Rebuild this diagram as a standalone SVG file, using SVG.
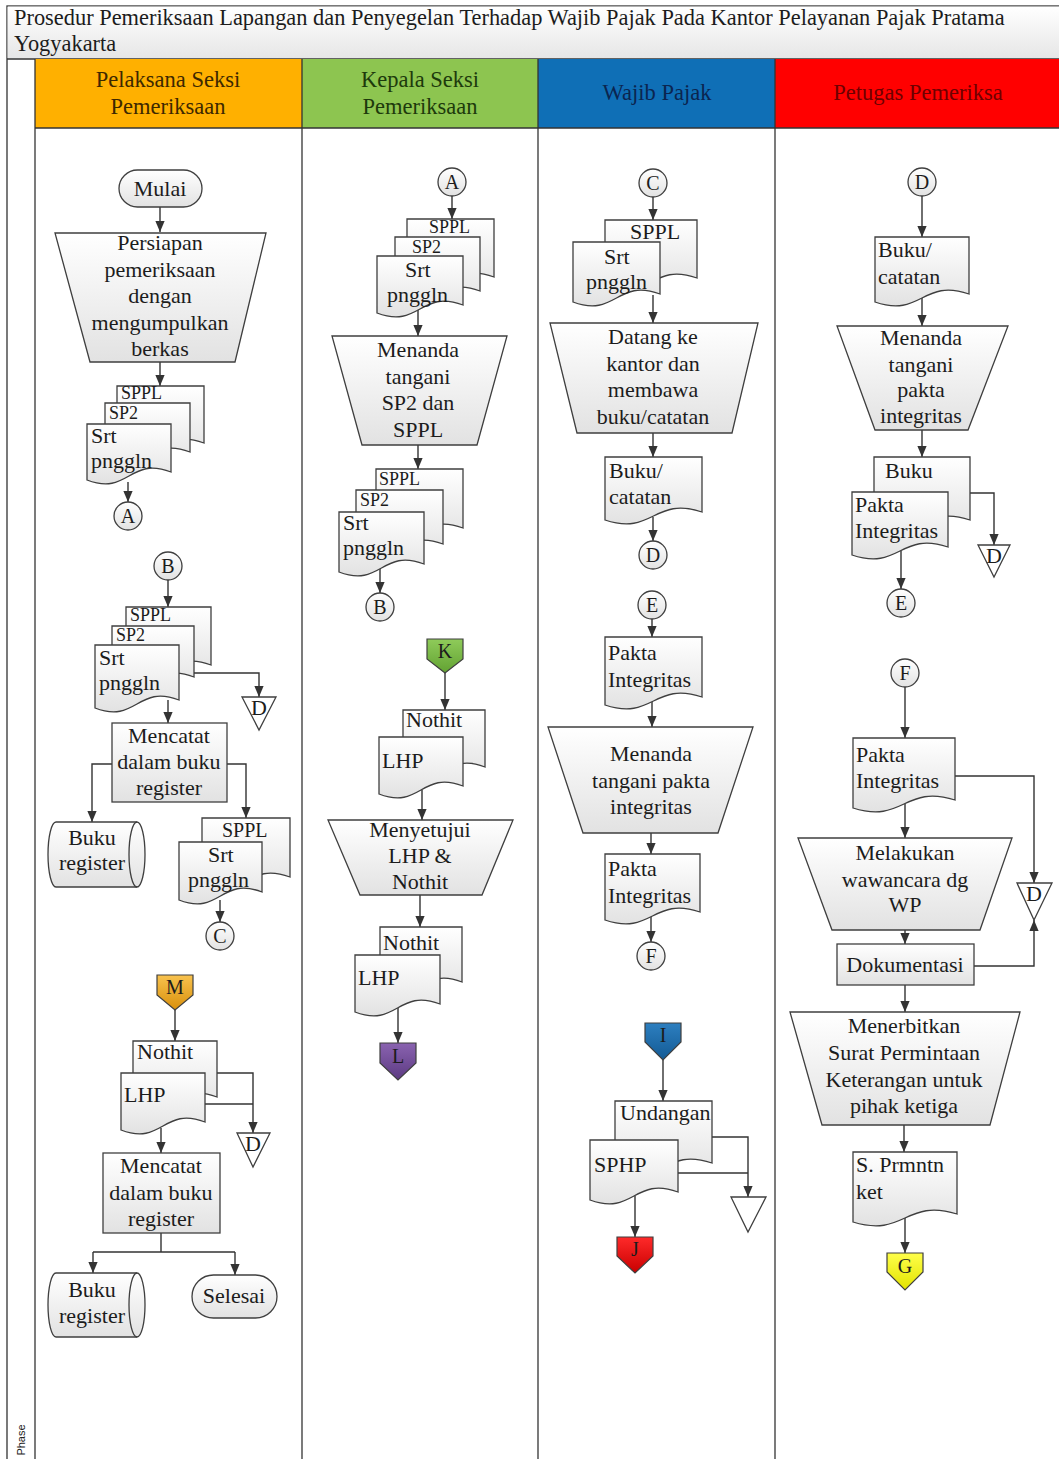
<svg xmlns="http://www.w3.org/2000/svg" width="1059" height="1459" viewBox="0 0 1059 1459">
<defs>
<linearGradient id="nf" x1="0" y1="0" x2="0" y2="1"><stop offset="0" stop-color="#ffffff"/><stop offset="1" stop-color="#e2e2e2"/></linearGradient>
<linearGradient id="tb" x1="0" y1="0" x2="0" y2="1"><stop offset="0" stop-color="#ffffff"/><stop offset="1" stop-color="#e6e6e6"/></linearGradient>
<linearGradient id="gM" x1="0" y1="0" x2="0" y2="1"><stop offset="0" stop-color="#f8c24e"/><stop offset="1" stop-color="#d9900c"/></linearGradient>
<linearGradient id="gK" x1="0" y1="0" x2="0" y2="1"><stop offset="0" stop-color="#8fcb5a"/><stop offset="1" stop-color="#62a232"/></linearGradient>
<linearGradient id="gL" x1="0" y1="0" x2="0" y2="1"><stop offset="0" stop-color="#8a63b0"/><stop offset="1" stop-color="#5c3a82"/></linearGradient>
<linearGradient id="gI" x1="0" y1="0" x2="0" y2="1"><stop offset="0" stop-color="#2d7fc0"/><stop offset="1" stop-color="#135a94"/></linearGradient>
<linearGradient id="gJ" x1="0" y1="0" x2="0" y2="1"><stop offset="0" stop-color="#ff2a2a"/><stop offset="1" stop-color="#c80000"/></linearGradient>
<linearGradient id="gG" x1="0" y1="0" x2="0" y2="1"><stop offset="0" stop-color="#ffff4a"/><stop offset="1" stop-color="#e2e200"/></linearGradient>
<marker id="ah" viewBox="0 0 10 10" refX="10" refY="5" markerWidth="11" markerHeight="11" markerUnits="userSpaceOnUse" orient="auto"><path d="M0,0.8 L10,5 L0,9.2 z" fill="#333"/></marker>
</defs>
<style>
.n{fill:url(#nf);stroke:#3f3f3f;stroke-width:1.3}
.tri{fill:#fff;stroke:#3f3f3f;stroke-width:1.3}
.t{font-family:"Liberation Serif","Times New Roman",serif;font-size:22px;fill:#1c1c1c}
.c{text-anchor:middle}
.h{font-size:22.5px}
.s{font-size:20px}
.sm{font-size:18px}
.ln{fill:none;stroke:#333;stroke-width:1.4}
.a{marker-end:url(#ah)}
.lane{stroke:#333;stroke-width:1.3;fill:none}
</style>

<g id="frame">
<rect x="7" y="6" width="1060" height="1460" fill="#fff" stroke="#333" stroke-width="1.3"/>
<rect x="7.6" y="6.6" width="1060" height="52" fill="url(#tb)"/>
<line x1="7" y1="59" x2="1059" y2="59" class="lane"/>
<rect x="35" y="59" width="267" height="69" fill="#ffb000"/>
<rect x="302" y="59" width="236" height="69" fill="#8dc550"/>
<rect x="538" y="59" width="237" height="69" fill="#0f6fb6"/>
<rect x="775" y="59" width="284" height="69" fill="#ff0000"/>
<line x1="35" y1="128" x2="1059" y2="128" class="lane"/>
<line x1="35" y1="59" x2="35" y2="1459" class="lane"/>
<line x1="302" y1="59" x2="302" y2="1459" class="lane"/>
<line x1="538" y1="59" x2="538" y2="1459" class="lane"/>
<line x1="775" y1="59" x2="775" y2="1459" class="lane"/>
<text class="t" x="14" y="25" style="font-size:22.4px">Prosedur Pemeriksaan Lapangan dan Penyegelan Terhadap Wajib Pajak Pada Kantor Pelayanan Pajak Pratama</text>
<text class="t" x="14" y="51" style="font-size:22.4px">Yogyakarta</text>
<text class="t c h" x="168" y="87" style="fill:#3d2800">Pelaksana Seksi</text>
<text class="t c h" x="168" y="114" style="fill:#3d2800">Pemeriksaan</text>
<text class="t c h" x="420" y="87" style="fill:#1d3a0c">Kepala Seksi</text>
<text class="t c h" x="420" y="114" style="fill:#1d3a0c">Pemeriksaan</text>
<text class="t c h" x="657" y="100" style="fill:#0b2550">Wajib Pajak</text>
<text class="t c h" x="918" y="100" style="fill:#6e0000">Petugas Pemeriksa</text>
<text x="25" y="1440" transform="rotate(-90 25 1440)" text-anchor="middle" style="font-family:'Liberation Sans',Arial,sans-serif;font-size:11px;fill:#222">Phase</text>
</g>

<g id="connectors">
<path class="ln a" d="M160 207V232"/>
<path class="ln a" d="M160 362V386"/>
<path class="ln a" d="M128 482V502"/>
<path class="ln a" d="M168 580V607"/>
<path class="ln a" d="M194 673H259V697"/>
<path class="ln a" d="M168 700V723"/>
<path class="ln a" d="M112 764H92V822"/>
<path class="ln a" d="M227 764H246V818"/>
<path class="ln a" d="M220 900V922"/>
<path class="ln a" d="M175 1010V1041"/>
<path class="ln a" d="M217 1073H253V1133"/>
<path class="ln" d="M205 1104H253"/>
<path class="ln a" d="M161 1128V1153"/>
<path class="ln" d="M161 1233V1252M93 1252H235"/>
<path class="ln a" d="M93 1252V1273"/>
<path class="ln a" d="M235 1252V1275"/>

<path class="ln a" d="M452 196V219"/>
<path class="ln a" d="M418 310V336"/>
<path class="ln a" d="M418 445V469"/>
<path class="ln a" d="M380 568V593"/>
<path class="ln a" d="M445 673V710"/>
<path class="ln a" d="M422 790V820"/>
<path class="ln a" d="M420 895V927"/>
<path class="ln a" d="M398 1008V1043"/>

<path class="ln a" d="M653 197V220"/>
<path class="ln a" d="M653 295V323"/>
<path class="ln a" d="M653 433V457"/>
<path class="ln a" d="M653 517V541"/>
<path class="ln a" d="M652 619V637"/>
<path class="ln a" d="M652 701V727"/>
<path class="ln a" d="M651 833V854"/>
<path class="ln a" d="M651 916V942"/>
<path class="ln a" d="M663 1060V1101"/>
<path class="ln a" d="M712 1137H748V1197"/>
<path class="ln" d="M678 1173H748"/>
<path class="ln a" d="M635 1196V1237"/>

<path class="ln a" d="M922 196V237"/>
<path class="ln a" d="M922 298V326"/>
<path class="ln a" d="M922 430V457"/>
<path class="ln a" d="M970 493H994V545"/>
<path class="ln a" d="M901 551V589"/>
<path class="ln a" d="M905 687V738"/>
<path class="ln a" d="M955 776H1034V883"/>
<path class="ln a" d="M905 804V838"/>
<path class="ln a" d="M905 930V944"/>
<path class="ln a" d="M974 966H1034V920"/>
<path class="ln a" d="M905 985V1012"/>
<path class="ln a" d="M904 1125V1152"/>
<path class="ln a" d="M905 1218V1253"/>
</g>

<!-- Lane 1 -->
<g id="mulai"><rect class="n" x="119" y="170" width="83" height="37" rx="18.5"/><text class="t c" x="160" y="196">Mulai</text></g>
<g id="persiapan"><path class="n" d="M55 233H266L235 362H90Z"/>
<text class="t c" x="160" y="250">Persiapan</text><text class="t c" x="160" y="277">pemeriksaan</text><text class="t c" x="160" y="303">dengan</text><text class="t c" x="160" y="330">mengumpulkan</text><text class="t c" x="160" y="356">berkas</text></g>
<g id="docs1">
<path class="n" d="M117 386h87v57c-43.5 -16 -43.5 24 -87 8z"/><text class="t sm" x="121" y="399">SPPL</text>
<path class="n" d="M105 403h85v49c-42.5 -16 -42.5 24 -85 8z"/><text class="t sm" x="109" y="419">SP2</text>
<path class="n" d="M87 424h84v48c-42 -16 -42 24 -84 8z"/><text class="t" x="91" y="443">Srt</text><text class="t" x="91" y="468">pnggln</text>
</g>
<g id="conA1"><circle class="n" cx="128" cy="516" r="14"/><text class="t c s" x="128" y="523">A</text></g>
<g id="conB1"><circle class="n" cx="168" cy="566" r="14"/><text class="t c s" x="168" y="573">B</text></g>
<g id="docs2">
<path class="n" d="M126 607h85v58c-42.5 -16 -42.5 24 -85 8z"/><text class="t sm" x="130" y="621">SPPL</text>
<path class="n" d="M112 626h82v51c-41 -16 -41 24 -82 8z"/><text class="t sm" x="116" y="641">SP2</text>
<path class="n" d="M95 645h84v55c-42 -16 -42 24 -84 8z"/><text class="t" x="99" y="665">Srt</text><text class="t" x="99" y="690">pnggln</text>
</g>
<g id="offD1"><path class="tri" d="M242 697H276L259 730Z"/><text class="t c" x="259" y="715">D</text></g>
<g id="mencatat1"><rect class="n" x="112" y="723" width="115" height="79"/>
<text class="t c" x="169" y="743">Mencatat</text><text class="t c" x="169" y="769">dalam buku</text><text class="t c" x="169" y="795">register</text></g>
<g id="bukureg1"><path class="n" d="M56 822H137A8 32.5 0 0 1 137 887H56A8 32.5 0 0 1 56 822Z"/><path class="ln" style="stroke:#3f3f3f;stroke-width:1.3" d="M137 822A8 32.5 0 0 0 137 887"/>
<text class="t c" x="92" y="845">Buku</text><text class="t c" x="92" y="870">register</text></g>
<g id="docs3">
<path class="n" d="M202 818h88v59c-44 -16 -44 24 -88 8z"/><text class="t s" x="222" y="837">SPPL</text>
<path class="n" d="M179 842h83v50c-41.5 -16 -41.5 24 -83 8z"/><text class="t" x="208" y="862">Srt</text><text class="t" x="188" y="887">pnggln</text>
</g>
<g id="conC1"><circle class="n" cx="220" cy="936" r="14"/><text class="t c s" x="220" y="943">C</text></g>
<g id="offM"><path d="M157 975H193V995L175 1010L157 995Z" fill="url(#gM)" stroke="#3f3f3f" stroke-width="1.2"/><text class="t c s" x="175" y="994">M</text></g>
<g id="docs4">
<path class="n" d="M133 1041h84v56c-42 -16 -42 24 -84 8z"/><text class="t" x="137" y="1059">Nothit</text>
<path class="n" d="M121 1073h84v49c-42 -16 -42 24 -84 8z"/><text class="t" x="124" y="1102">LHP</text>
</g>
<g id="offD2"><path class="tri" d="M237 1133H270L253 1167Z"/><text class="t c" x="253" y="1151">D</text></g>
<g id="mencatat2"><rect class="n" x="103" y="1153" width="117" height="80"/>
<text class="t c" x="161" y="1173">Mencatat</text><text class="t c" x="161" y="1200">dalam buku</text><text class="t c" x="161" y="1226">register</text></g>
<g id="bukureg2"><path class="n" d="M56 1273H137A8 32 0 0 1 137 1337H56A8 32 0 0 1 56 1273Z"/><path class="ln" style="stroke:#3f3f3f;stroke-width:1.3" d="M137 1273A8 32 0 0 0 137 1337"/>
<text class="t c" x="92" y="1297">Buku</text><text class="t c" x="92" y="1323">register</text></g>
<g id="selesai"><rect class="n" x="192" y="1275" width="85" height="43" rx="21.5"/><text class="t c" x="234" y="1303">Selesai</text></g>

<!-- Lane 2 -->
<g id="conA2"><circle class="n" cx="452" cy="182" r="14"/><text class="t c s" x="452" y="189">A</text></g>
<g id="docs5">
<path class="n" d="M407 219h87v58c-43.5 -16 -43.5 24 -87 8z"/><text class="t sm" x="429" y="233">SPPL</text>
<path class="n" d="M395 237h85v54c-42.5 -16 -42.5 24 -85 8z"/><text class="t sm" x="412" y="253">SP2</text>
<path class="n" d="M377 256h86v49c-43 -16 -43 24 -86 8z"/><text class="t" x="405" y="277">Srt</text><text class="t" x="387" y="302">pnggln</text>
</g>
<g id="menandaSP2"><path class="n" d="M332 336H507L477 445H362Z"/>
<text class="t c" x="418" y="357">Menanda</text><text class="t c" x="418" y="384">tangani</text><text class="t c" x="418" y="410">SP2 dan</text><text class="t c" x="418" y="437">SPPL</text></g>
<g id="docs6">
<path class="n" d="M376 469h87v59c-43.5 -16 -43.5 24 -87 8z"/><text class="t sm" x="379" y="485">SPPL</text>
<path class="n" d="M356 490h87v54c-43.5 -16 -43.5 24 -87 8z"/><text class="t sm" x="360" y="506">SP2</text>
<path class="n" d="M339 512h85v52c-42.5 -16 -42.5 24 -85 8z"/><text class="t" x="343" y="530">Srt</text><text class="t" x="343" y="555">pnggln</text>
</g>
<g id="conB2"><circle class="n" cx="380" cy="607" r="14"/><text class="t c s" x="380" y="614">B</text></g>
<g id="offK"><path d="M427 639H463V659L445 673L427 659Z" fill="url(#gK)" stroke="#3f3f3f" stroke-width="1.2"/><text class="t c s" x="445" y="658">K</text></g>
<g id="docs7">
<path class="n" d="M403 710h82v57c-41 -16 -41 24 -82 8z"/><text class="t" x="406" y="727">Nothit</text>
<path class="n" d="M379 737h84v49c-42 -16 -42 24 -84 8z"/><text class="t" x="382" y="768">LHP</text>
</g>
<g id="menyetujui"><path class="n" d="M328 820H513L482 895H360Z"/>
<text class="t c" x="420" y="837">Menyetujui</text><text class="t c" x="420" y="863">LHP &amp;</text><text class="t c" x="420" y="889">Nothit</text></g>
<g id="docs8">
<path class="n" d="M380 927h82v55c-41 -16 -41 24 -82 8z"/><text class="t" x="383" y="950">Nothit</text>
<path class="n" d="M355 955h85v49c-42.5 -16 -42.5 24 -85 8z"/><text class="t" x="358" y="985">LHP</text>
</g>
<g id="offL"><path d="M380 1043H416V1063L398 1080L380 1063Z" fill="url(#gL)" stroke="#3f3f3f" stroke-width="1.2"/><text class="t c s" x="398" y="1063">L</text></g>

<!-- Lane 3 -->
<g id="conC2"><circle class="n" cx="653" cy="183" r="14"/><text class="t c s" x="653" y="190">C</text></g>
<g id="docs9">
<path class="n" d="M605 220h92v58c-46 -16 -46 24 -92 8z"/><text class="t" x="630" y="239">SPPL</text>
<path class="n" d="M573 242h87v52c-43.5 -16 -43.5 24 -87 8z"/><text class="t" x="604" y="264">Srt</text><text class="t" x="586" y="289">pnggln</text>
</g>
<g id="datang"><path class="n" d="M550 323H758L732 433H577Z"/>
<text class="t c" x="653" y="344">Datang ke</text><text class="t c" x="653" y="371">kantor dan</text><text class="t c" x="653" y="397">membawa</text><text class="t c" x="653" y="424">buku/catatan</text></g>
<g id="bukucat1"><path class="n" d="M605 457h97v55c-48.5 -16 -48.5 24 -97 8z"/><text class="t" x="609" y="478">Buku/</text><text class="t" x="609" y="504">catatan</text></g>
<g id="conD2"><circle class="n" cx="653" cy="555" r="14"/><text class="t c s" x="653" y="562">D</text></g>
<g id="conE2"><circle class="n" cx="652" cy="605" r="14"/><text class="t c s" x="652" y="612">E</text></g>
<g id="pakta1"><path class="n" d="M605 637h97v60c-48.5 -16 -48.5 24 -97 8z"/><text class="t" x="608" y="660">Pakta</text><text class="t" x="608" y="687">Integritas</text></g>
<g id="menandaPakta"><path class="n" d="M548 727H753L718 833H583Z"/>
<text class="t c" x="651" y="761">Menanda</text><text class="t c" x="651" y="788">tangani pakta</text><text class="t c" x="651" y="814">integritas</text></g>
<g id="pakta2"><path class="n" d="M605 854h95v58c-47.5 -16 -47.5 24 -95 8z"/><text class="t" x="608" y="876">Pakta</text><text class="t" x="608" y="903">Integritas</text></g>
<g id="conF2"><circle class="n" cx="651" cy="956" r="14"/><text class="t c s" x="651" y="963">F</text></g>
<g id="offI"><path d="M645 1023H681V1042L663 1060L645 1042Z" fill="url(#gI)" stroke="#3f3f3f" stroke-width="1.2"/><text class="t c s" x="663" y="1042">I</text></g>
<g id="docs10">
<path class="n" d="M615 1101h97v62c-48.5 -16 -48.5 24 -97 8z"/><text class="t" x="620" y="1120">Undangan</text>
<path class="n" d="M590 1140h88v52c-44 -16 -44 24 -88 8z"/><text class="t" x="594" y="1172">SPHP</text>
</g>
<g id="offBlank"><path class="tri" d="M731 1197H766L748 1232Z"/></g>
<g id="offJ"><path d="M617 1237H653V1256L635 1273L617 1256Z" fill="url(#gJ)" stroke="#3f3f3f" stroke-width="1.2"/><text class="t c s" x="635" y="1256">J</text></g>

<!-- Lane 4 -->
<g id="conD3"><circle class="n" cx="922" cy="182" r="14"/><text class="t c s" x="922" y="189">D</text></g>
<g id="bukucat2"><path class="n" d="M875 237h94v57c-47 -16 -47 24 -94 8z"/><text class="t" x="878" y="257">Buku/</text><text class="t" x="878" y="284">catatan</text></g>
<g id="menandaPakta2"><path class="n" d="M837 326H1008L968 430H875Z"/>
<text class="t c" x="921" y="345">Menanda</text><text class="t c" x="921" y="372">tangani</text><text class="t c" x="921" y="397">pakta</text><text class="t c" x="921" y="423">integritas</text></g>
<g id="docs11">
<path class="n" d="M874 457h96v63c-48 -16 -48 24 -96 8z"/><text class="t" x="885" y="478">Buku</text>
<path class="n" d="M852 492h96v55c-48 -16 -48 24 -96 8z"/><text class="t" x="855" y="512">Pakta</text><text class="t" x="855" y="538">Integritas</text>
</g>
<g id="offD3"><path class="tri" d="M978 545H1010L994 577Z"/><text class="t c" x="994" y="563">D</text></g>
<g id="conE3"><circle class="n" cx="901" cy="603" r="14"/><text class="t c s" x="901" y="610">E</text></g>
<g id="conF3"><circle class="n" cx="905" cy="673" r="14"/><text class="t c s" x="905" y="680">F</text></g>
<g id="pakta3"><path class="n" d="M853 738h102v62c-51 -16 -51 24 -102 8z"/><text class="t" x="856" y="762">Pakta</text><text class="t" x="856" y="788">Integritas</text></g>
<g id="offD4"><path class="tri" d="M1017 883H1052L1034 920Z"/><text class="t c" x="1034" y="901">D</text></g>
<g id="wawancara"><path class="n" d="M798 838H1012L980 930H832Z"/>
<text class="t c" x="905" y="860">Melakukan</text><text class="t c" x="905" y="887">wawancara dg</text><text class="t c" x="905" y="912">WP</text></g>
<g id="dokumentasi"><rect class="n" x="837" y="944" width="137" height="41"/><text class="t c" x="905" y="972">Dokumentasi</text></g>
<g id="menerbitkan"><path class="n" d="M790 1012H1020L990 1125H822Z"/>
<text class="t c" x="904" y="1033">Menerbitkan</text><text class="t c" x="904" y="1060">Surat Permintaan</text><text class="t c" x="904" y="1087">Keterangan untuk</text><text class="t c" x="904" y="1113">pihak ketiga</text></g>
<g id="sprmntn"><path class="n" d="M853 1152h104v62c-52 -16 -52 24 -104 8z"/><text class="t" x="856" y="1172">S. Prmntn</text><text class="t" x="856" y="1199">ket</text></g>
<g id="offG"><path d="M887 1253H923V1272L905 1290L887 1272Z" fill="url(#gG)" stroke="#3f3f3f" stroke-width="1.2"/><text class="t c s" x="905" y="1273">G</text></g>
</svg>
